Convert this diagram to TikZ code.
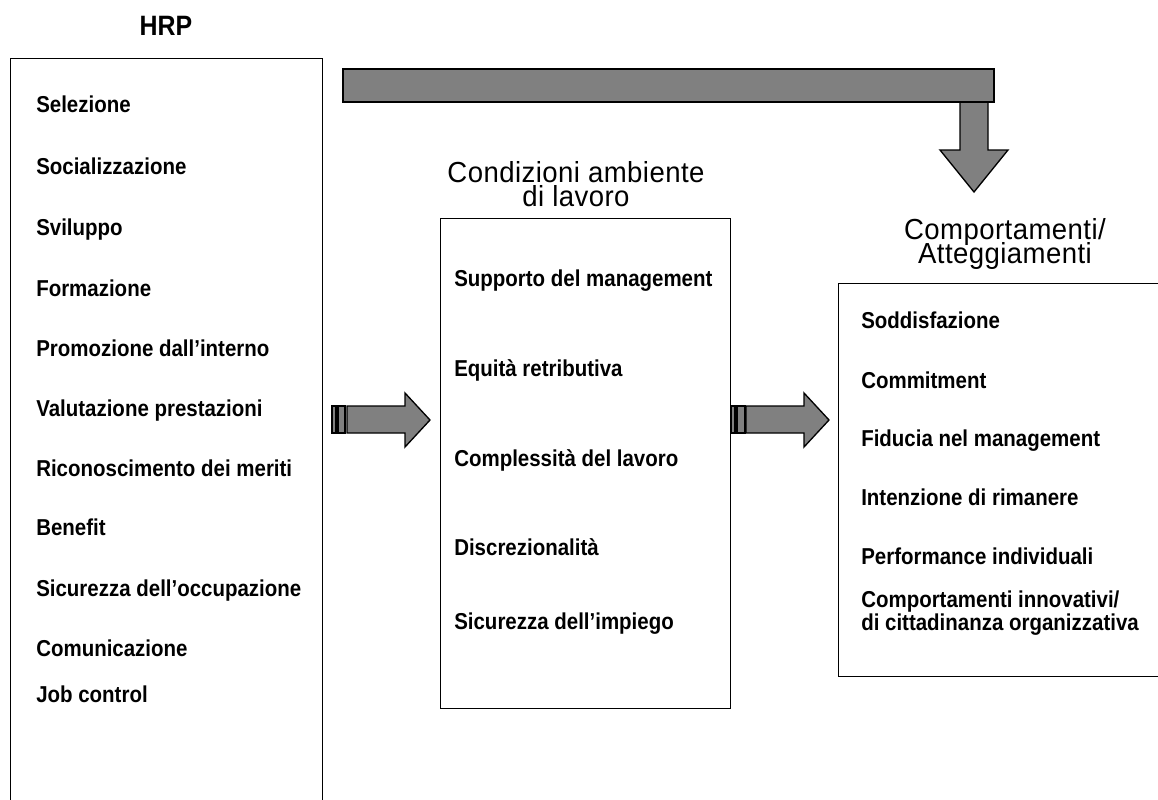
\documentclass[tikz,border=0pt]{standalone}
\usepackage{fontspec}
\setmainfont{Liberation Sans}[FakeStretch=0.89]
\newfontfamily\titlefont{Liberation Sans}[FakeStretch=0.95,LetterSpace=1.5]
\definecolor{arrowgray}{RGB}{128,128,128}
\newcommand\tightlines{\lineskiplimit=-20pt\relax\lineskip=0pt\relax}
\tikzset{
  box/.style={draw=black, line width=1.1pt, inner sep=0pt, anchor=north west},
  item/.style={font=\fontsize{17.25}{17}\selectfont\bfseries\tightlines, inner sep=0pt, anchor=base west, align=left},
  title/.style={font=\titlefont\fontsize{21.75}{17.5}\selectfont\tightlines, inner sep=0pt, anchor=base, align=center},
  blockarrow/.style={draw=black, line width=1pt, fill=arrowgray, line join=miter}
}
\begin{document}
\begin{tikzpicture}[x=0.75pt,y=-0.75pt]
\useasboundingbox (0,0) rectangle (1158,800);
\clip (0,0) rectangle (1158,800);

% boxes
\node[box, minimum width=234pt, minimum height=560pt] (hrpbox) at (10,58) {};
\node[box, minimum width=217.5pt, minimum height=367.5pt] (condbox) at (440,218) {};
\node[box, minimum width=249pt, minimum height=294.75pt] (compbox) at (838,283) {};

% titles
\node[title, font=\fontsize{21}{15}\selectfont\bfseries] (hrp) at (166,35) {HRP};
\node[title] (condt) at (576,206) {Condizioni ambiente\\di lavoro};
\node[title] (compt) at (1005,263) {Comportamenti/\\Atteggiamenti};

% left items
\node[item] (l1) at (36,112) {Selezione};
\node[item] (l2) at (36,174) {Socializzazione};
\node[item] (l3) at (36,235) {Sviluppo};
\node[item] (l4) at (36,296) {Formazione};
\node[item] (l5) at (36,356) {Promozione dall’interno};
\node[item] (l6) at (36,416) {Valutazione prestazioni};
\node[item] (l7) at (36,476) {Riconoscimento dei meriti};
\node[item] (l8) at (36,535) {Benefit};
\node[item] (l9) at (36,596) {Sicurezza dell’occupazione};
\node[item] (l10) at (36,656) {Comunicazione};
\node[item] (l11) at (36,702) {Job control};

% middle items
\node[item] (m1) at (454,286) {Supporto del management};
\node[item] (m2) at (454,376) {Equità retributiva};
\node[item] (m3) at (454,466) {Complessità del lavoro};
\node[item] (m4) at (454,555) {Discrezionalità};
\node[item] (m5) at (454,629) {Sicurezza dell’impiego};

% right items
\node[item] (r1) at (861,328) {Soddisfazione};
\node[item] (r2) at (861,388) {Commitment};
\node[item] (r3) at (861,446) {Fiducia nel management};
\node[item] (r4) at (861,505) {Intenzione di rimanere};
\node[item] (r5) at (861,564) {Performance individuali};
\node[item] (r6) at (861,630) {Comportamenti innovativi/\\di cittadinanza organizzativa};

% top bent arrow
\draw[blockarrow] (960,102) -- (960,150) -- (940,150) -- (974,192) -- (1008,150) -- (988,150) -- (988,102);
\draw[blockarrow] (343,69) rectangle (994,102);

% horizontal arrows
\draw[blockarrow] (332,406) rectangle (336,433);
\draw[blockarrow] (338,406) rectangle (345,433);
\draw[blockarrow] (347,406) -- (405,406) -- (405,393) -- (430,420) -- (405,447) -- (405,433) -- (347,433) -- cycle;

\draw[blockarrow] (731,406) rectangle (735,433);
\draw[blockarrow] (737,406) rectangle (745,433);
\draw[blockarrow] (746,406) -- (804,406) -- (804,393) -- (829,420) -- (804,447) -- (804,433) -- (746,433) -- cycle;
\end{tikzpicture}
\end{document}
